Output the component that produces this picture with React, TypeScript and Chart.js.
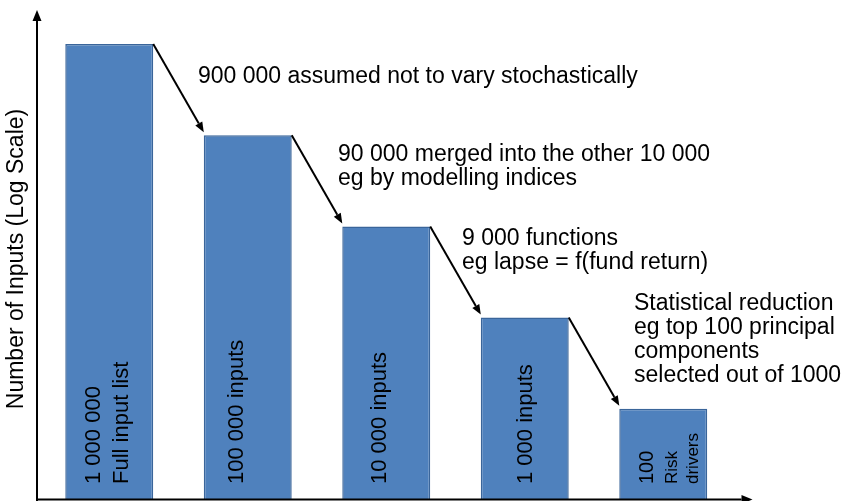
import React, { useEffect, useRef } from "react";
import { Chart, registerables } from "chart.js";

Chart.register(...registerables);

const categories = ["Full input list", "100 000 inputs", "10 000 inputs", "1 000 inputs", "Risk drivers"];
const inputCounts = [1000000, 100000, 10000, 1000, 100];
const barLabels: string[][] = [
  ["1 000 000", "Full input list"],
  ["100 000 inputs"],
  ["10 000 inputs"],
  ["1 000 inputs"],
  ["100", "Risk", "drivers"],
];
const annotationLines: string[][] = [
  ["900 000 assumed not to vary stochastically"],
  ["90 000 merged into the other 10 000", "eg by modelling indices"],
  ["9 000 functions", "eg lapse = f(fund return)"],
  ["Statistical reduction", "eg top 100 principal", "components", "selected out of 1000"],
];
const yAxisTitle = "Number of Inputs (Log Scale)";

// styling / placement (not data)
const FONT = "'Liberation Sans', Arial, sans-serif";
const labelOffsets: number[][] = [[-9.5, 18.5], [-5], [0], [7], [-10.5, 13.5, 34.5]];
const labelSizes: number[][] = [[22, 22], [22], [22], [22], [20, 17, 17]];
const annotationPos = [
  { x: 198, y: 83 },
  { x: 338, y: 161 },
  { x: 462, y: 245 },
  { x: 634, y: 310 },
];

function arrow(ctx: CanvasRenderingContext2D, x1: number, y1: number, x2: number, y2: number, len: number, half: number) {
  const ang = Math.atan2(y2 - y1, x2 - x1);
  const bx = x2 - len * Math.cos(ang);
  const by = y2 - len * Math.sin(ang);
  ctx.beginPath();
  ctx.moveTo(x1, y1);
  ctx.lineTo(bx, by);
  ctx.stroke();
  ctx.beginPath();
  ctx.moveTo(x2, y2);
  ctx.lineTo(bx + half * Math.sin(ang), by - half * Math.cos(ang));
  ctx.lineTo(bx - half * Math.sin(ang), by + half * Math.cos(ang));
  ctx.closePath();
  ctx.fill();
}

const decorPlugin = {
  id: "decor",
  afterDatasetsDraw(chart: any) {
    const ctx: CanvasRenderingContext2D = chart.ctx;
    const meta = chart.getDatasetMeta(0);
    const bars = meta.data;
    const area = chart.chartArea;
    ctx.save();
    ctx.strokeStyle = "#000";
    ctx.fillStyle = "#000";
    // step arrows between bars
    ctx.lineWidth = 2;
    for (let i = 0; i < bars.length - 1; i++) {
      const a = bars[i];
      const b = bars[i + 1];
      const x1 = a.x + a.width / 2;
      const y1 = a.y;
      const x2 = b.x - b.width / 2;
      const y2 = b.y - 3;
      arrow(ctx, x1, y1, x2, y2, 10, 4);
    }
    // axes
    const ax = area.left - 3;
    const ay = area.bottom - 0.5;
    ctx.lineWidth = 2;
    arrow(ctx, ax, area.bottom + 1, ax, area.top, 11, 4.5);
    arrow(ctx, ax - 1, ay, area.right + 20, ay, 11, 4.5);

    // bar labels (rotated)
    ctx.fillStyle = "#000";
    ctx.textAlign = "left";
    ctx.textBaseline = "alphabetic";
    bars.forEach((bar: any, i: number) => {
      barLabels[i].forEach((line, j) => {
        ctx.save();
        ctx.translate(bar.x + labelOffsets[i][j], area.bottom - 16);
        ctx.rotate(-Math.PI / 2);
        ctx.font = `${labelSizes[i][j]}px ${FONT}`;
        ctx.fillText(line, 0, 0);
        ctx.restore();
      });
    });

    // annotations
    ctx.font = `23px ${FONT}`;
    annotationLines.forEach((lines, i) => {
      lines.forEach((line, j) => {
        ctx.fillText(line, annotationPos[i].x, annotationPos[i].y + j * 24);
      });
    });

    // y-axis title
    ctx.save();
    ctx.translate(17, 259);
    ctx.rotate(-Math.PI / 2);
    ctx.textAlign = "center";
    ctx.textBaseline = "middle";
    ctx.font = `23px ${FONT}`;
    ctx.fillText(yAxisTitle, 0, 0);
    ctx.restore();
    ctx.restore();
  },
};

export default function App() {
  const ref = useRef<HTMLCanvasElement>(null);
  useEffect(() => {
    document.body.style.margin = "0";
    const chart = new Chart(ref.current!, {
      type: "bar",
      data: {
        labels: categories,
        datasets: [
          {
            data: inputCounts,
            backgroundColor: "#4F81BD",
            borderColor: "#3A659A",
            borderWidth: 1.5,
            barPercentage: 0.635,
            categoryPercentage: 1,
          },
        ],
      },
      options: {
        responsive: false,
        animation: false,
        layout: { padding: { left: 40, right: 109.5, top: 10, bottom: 1 } },
        plugins: { legend: { display: false }, tooltip: { enabled: false } },
        scales: {
          x: { display: false, offset: true },
          y: { type: "logarithmic", display: false, min: 10, max: 2358000 },
        },
      },
      plugins: [decorPlugin],
    });
    return () => chart.destroy();
  }, []);
  return (
    <div style={{ width: 842, height: 501, background: "#fff" }}>
      <canvas ref={ref} width={842} height={501} style={{ display: "block" }} />
    </div>
  );
}
